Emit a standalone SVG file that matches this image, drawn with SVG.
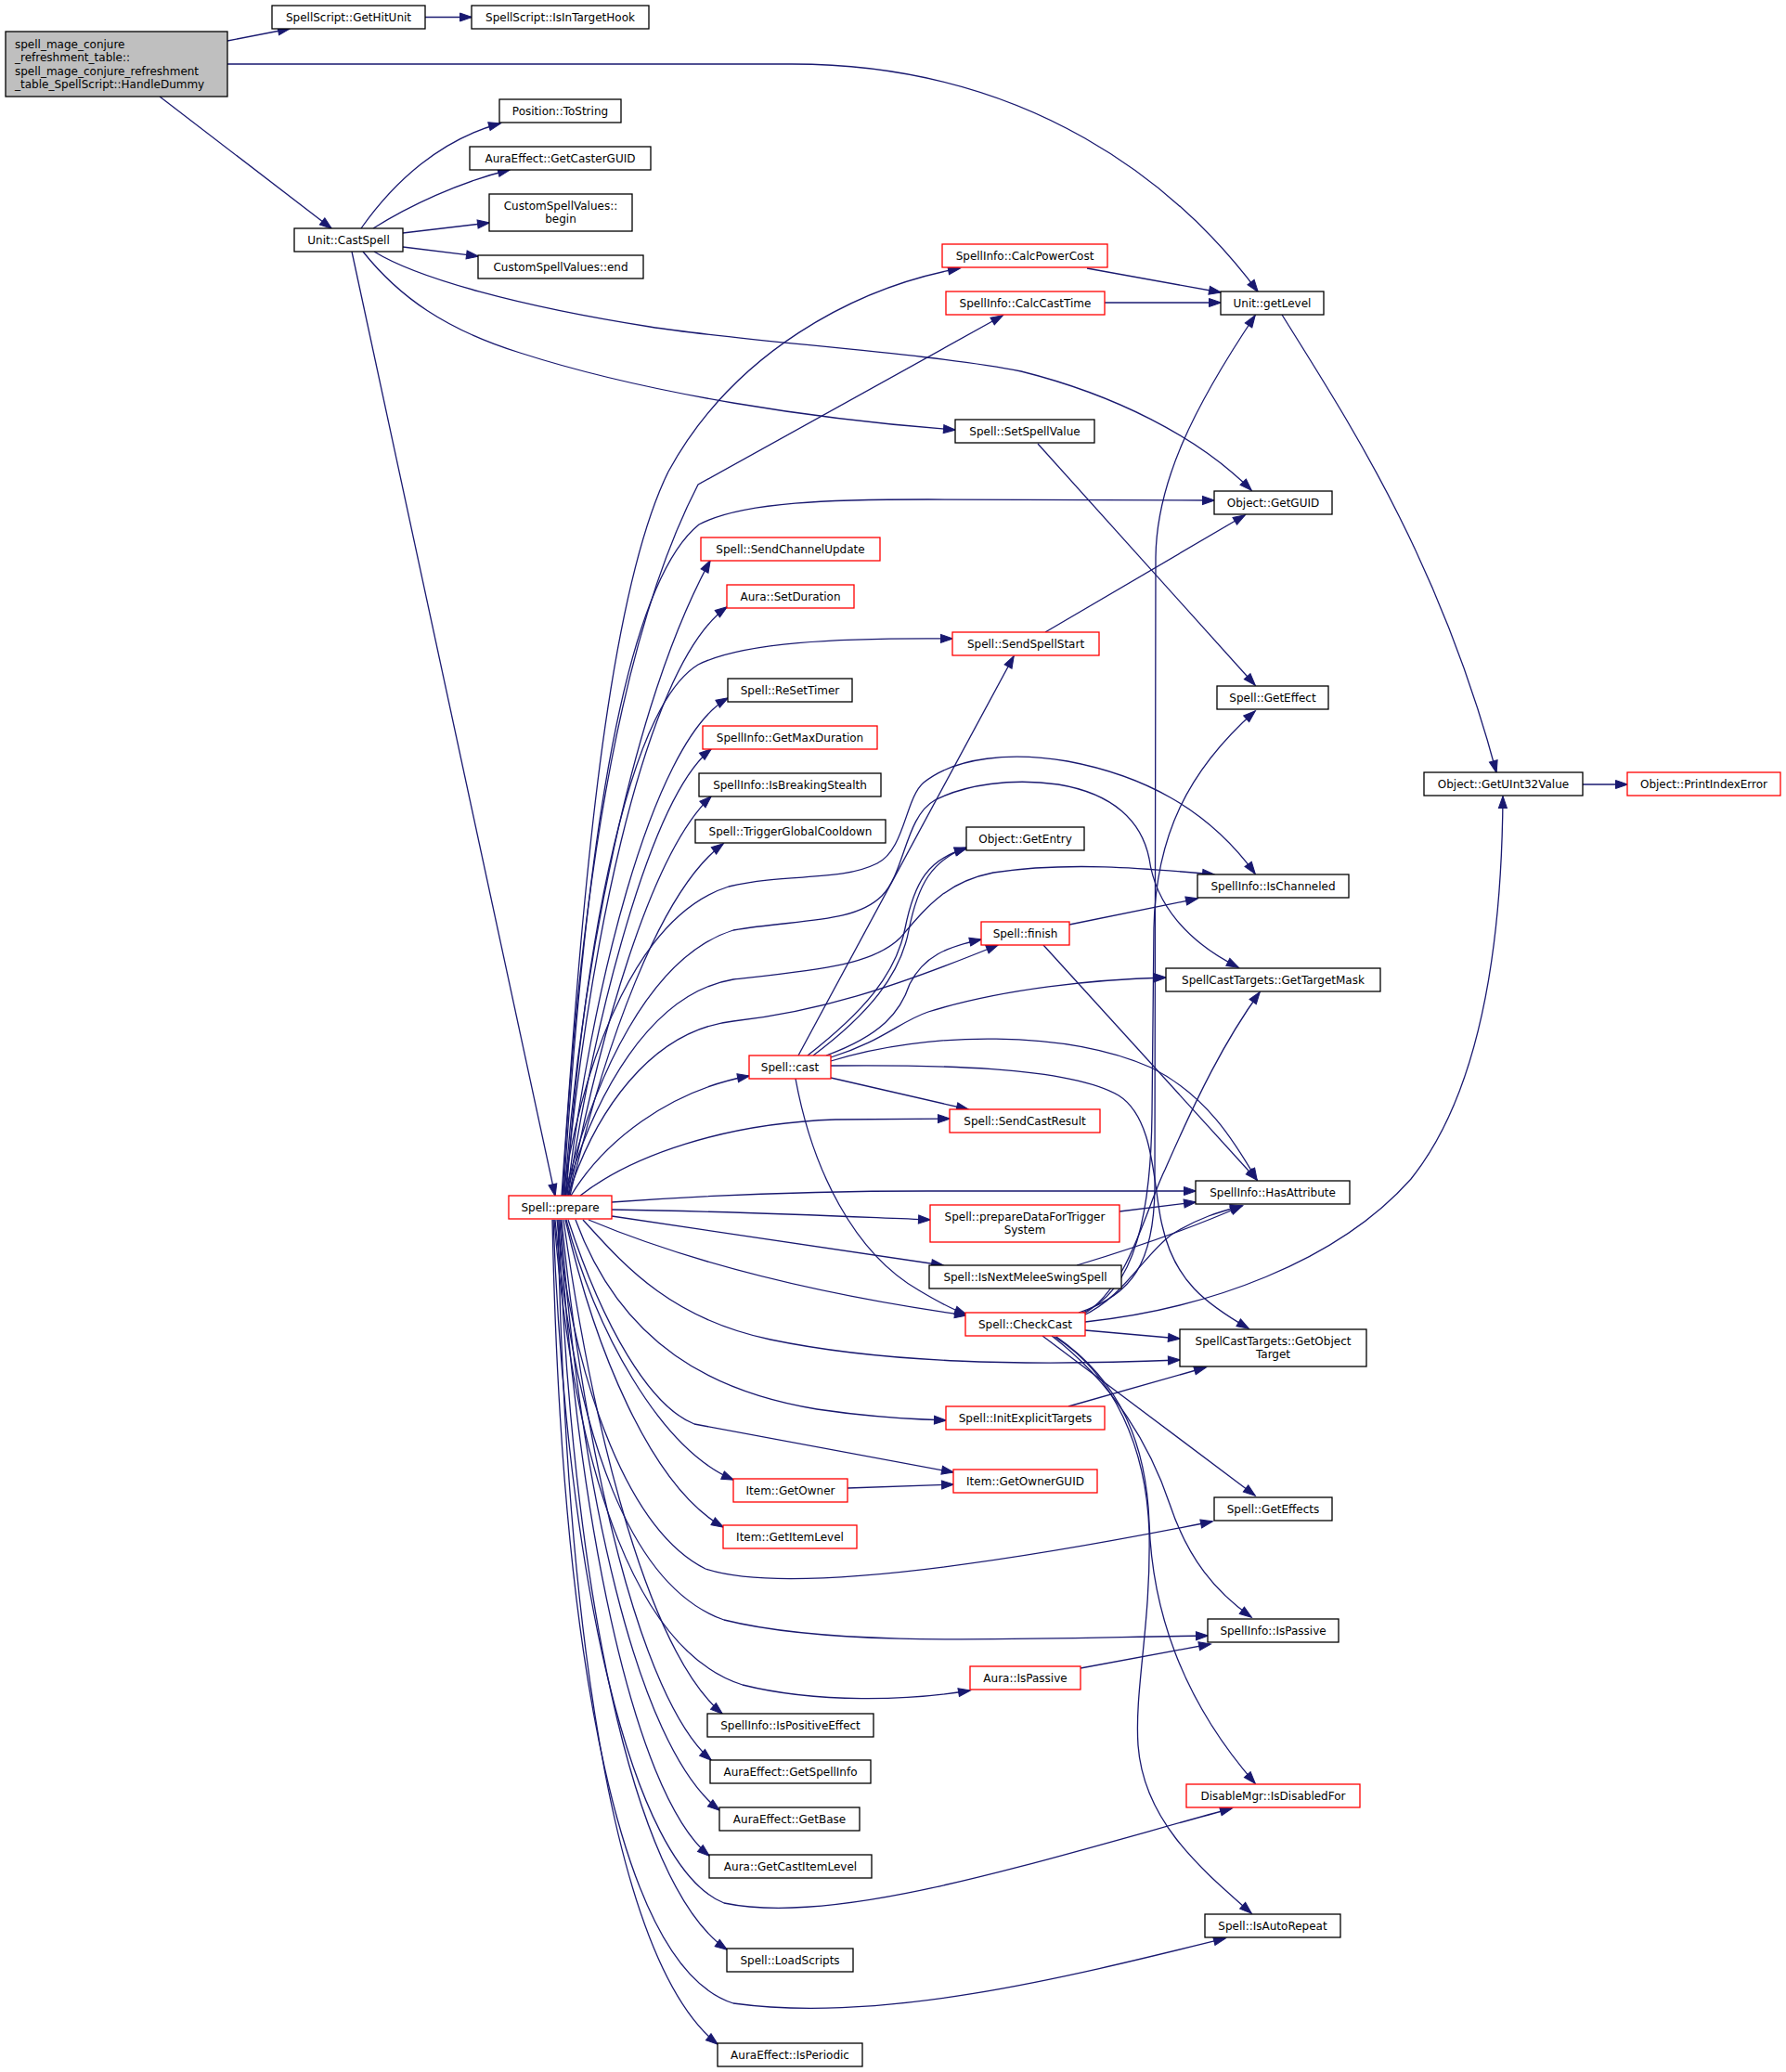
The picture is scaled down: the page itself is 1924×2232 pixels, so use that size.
<svg xmlns="http://www.w3.org/2000/svg" width="1924" height="2232" viewBox="0 0 1924 2232">
<defs>
<style>
.n rect{fill:#ffffff;stroke:#000000;stroke-width:1.3}
.n.r rect{stroke:#ff0000}
.n.root rect{fill:#bfbfbf}
text{font-family:"DejaVu Sans","Liberation Sans",sans-serif;font-size:12px;fill:#000000;text-anchor:middle}
.n.root text{text-anchor:start}
#edges path{fill:none;stroke:#191970;stroke-width:1.3;marker-end:url(#arr)}
</style>
<marker id="arr" markerWidth="13" markerHeight="10" refX="12.5" refY="4.5" orient="auto" markerUnits="userSpaceOnUse" overflow="visible">
<path d="M0,0 L13,4.5 L0,9 z" fill="#191970" stroke="#191970" stroke-width="1"/>
</marker>
</defs>
<rect x="0" y="0" width="1924" height="2232" fill="#ffffff"/>
<g id="edges">
<path d="M245,44 L312,31"/>
<path d="M458,18.5 L508,18.5"/>
<path d="M245,69 L853,69 C1110,69 1270,200 1355,314"/>
<path d="M172,104 L357,246"/>
<path d="M389,246 C425,195 475,150 539,133"/>
<path d="M402,246 C440,222 495,196 549,183"/>
<path d="M434,251 L527,240"/>
<path d="M434,266 L515,276"/>
<path d="M403,271 C450,300 560,330 700,352 C800,368 1000,380 1100,400 C1200,425 1290,470 1348,528"/>
<path d="M391,271 C430,320 480,355 560,380 C700,425 880,452 1029,463"/>
<path d="M379,271 L598,1288"/>
<path d="M1171,289 L1315,315"/>
<path d="M1190,326 L1315,326"/>
<path d="M1381,339 C1450,450 1550,600 1612,832"/>
<path d="M1705,845 L1753,845"/>
<path d="M1118,478 L1352,738"/>
<path d="M1126,681 L1341,555"/>
<path d="M605,1288 C625,1000 650,650 720,508 C790,380 920,310 1034,289"/>
<path d="M606,1288 C622,1000 660,700 752,522 L1080,340"/>
<path d="M607,1288 C625,1000 660,640 753,565 C800,540 900,538 1000,538 L1308,539"/>
<path d="M608,1288 C625,1050 680,760 765,604"/>
<path d="M609,1288 C630,1050 690,720 783,654"/>
<path d="M610,1288 C630,1000 680,760 752,716 C800,692 900,687 1026,688"/>
<path d="M611,1288 C635,1080 700,800 784,752"/>
<path d="M612,1288 C640,1100 700,860 766,807"/>
<path d="M613,1288 C645,1120 700,920 766,858"/>
<path d="M614,1288 C650,1130 710,960 779,909"/>
<path d="M606,1288 C630,1130 690,985 785,955 C850,940 905,950 945,930 C975,915 975,860 995,843 C1030,815 1090,810 1150,820 C1230,835 1300,870 1352,941"/>
<path d="M608,1288 C640,1160 700,1030 790,1002 C860,990 920,995 950,965 C975,940 975,880 1007,862 C1040,845 1090,838 1140,845 C1200,855 1230,885 1238,925 C1245,975 1280,1015 1334,1042"/>
<path d="M609,1288 C640,1180 700,1070 790,1055 C880,1045 940,1040 970,1010 C1000,975 1020,950 1070,940 C1150,928 1230,935 1308,942"/>
<path d="M612,1288 C640,1200 700,1110 790,1100 C880,1090 960,1065 1075,1018"/>
<path d="M615,1288 C650,1230 720,1175 807,1159"/>
<path d="M625,1288 C680,1245 780,1210 900,1206 L1023,1205"/>
<path d="M659,1295 C780,1286 900,1283 1000,1283 L1288,1283"/>
<path d="M659,1303 C800,1305 900,1310 1002,1314"/>
<path d="M659,1310 L1016,1363"/>
<path d="M634,1314 C720,1350 850,1390 1041,1417"/>
<path d="M628,1314 C670,1360 720,1420 830,1443 C950,1468 1100,1472 1271,1465"/>
<path d="M620,1314 C670,1450 770,1500 880,1518 C940,1527 980,1529 1019,1530"/>
<path d="M612,1314 C650,1430 700,1515 748,1534 L1027,1586"/>
<path d="M913,1603 L1027,1599"/>
<path d="M610,1314 C640,1430 710,1560 790,1594"/>
<path d="M609,1314 C640,1450 700,1600 779,1645"/>
<path d="M600,1314 C620,1500 680,1650 760,1690 C850,1720 1100,1680 1306,1639"/>
<path d="M598,1314 C620,1550 680,1710 780,1745 C900,1775 1100,1765 1301,1762"/>
<path d="M1164,1797 L1304,1771"/>
<path d="M597,1314 C620,1600 690,1780 800,1815 C880,1835 980,1832 1045,1821"/>
<path d="M607,1314 C640,1550 700,1780 778,1846"/>
<path d="M605,1314 C630,1570 690,1830 766,1896"/>
<path d="M604,1314 C625,1600 685,1880 775,1950"/>
<path d="M603,1314 C620,1620 680,1930 764,1999"/>
<path d="M596,1314 C610,1700 680,2010 780,2050 C900,2075 1100,2010 1327,1948"/>
<path d="M602,1314 C615,1700 680,2030 783,2100"/>
<path d="M595,1314 C605,1800 670,2120 790,2158 C950,2180 1150,2130 1320,2088"/>
<path d="M601,1314 C610,1800 670,2120 773,2202"/>
<path d="M860,1137 L1092,707"/>
<path d="M870,1137 C930,1090 965,1050 975,1000 C985,950 1000,925 1041,914"/>
<path d="M876,1137 C936,1092 970,1050 979,1002 C989,952 1004,927 1041,913"/>
<path d="M890,1137 C950,1115 970,1090 980,1060 C995,1030 1020,1020 1057,1012"/>
<path d="M895,1139 C950,1122 970,1100 1000,1090 C1080,1065 1180,1055 1256,1053"/>
<path d="M895,1143 C1000,1110 1150,1110 1240,1150 C1300,1180 1330,1230 1354,1271"/>
<path d="M895,1148 C1000,1147 1150,1148 1205,1180 C1245,1205 1242,1280 1252,1320 C1265,1380 1300,1405 1345,1431"/>
<path d="M895,1161 L1043,1195"/>
<path d="M857,1162 C875,1260 920,1350 990,1390 C1010,1402 1025,1410 1041,1416"/>
<path d="M1152,996 L1290,968"/>
<path d="M1124,1018 L1354,1271"/>
<path d="M1206,1305 L1288,1295"/>
<path d="M1160,1363 C1220,1345 1290,1320 1338,1299"/>
<path d="M1162,1414 C1220,1395 1243,1360 1244,1280 L1245,600 C1246,520 1285,440 1352,340"/>
<path d="M1164,1415 C1225,1392 1240,1300 1241,1200 L1243,1000 C1245,900 1280,830 1352,766"/>
<path d="M1166,1416 C1215,1390 1235,1300 1255,1260 C1290,1180 1320,1120 1357,1069"/>
<path d="M1165,1418 C1210,1398 1232,1352 1262,1330 C1290,1312 1315,1305 1338,1299"/>
<path d="M1169,1433 L1271,1442"/>
<path d="M1169,1424 C1300,1410 1440,1360 1520,1270 C1600,1170 1618,1000 1619,858"/>
<path d="M1123,1439 L1352,1611"/>
<path d="M1133,1439 C1200,1490 1240,1560 1260,1620 C1280,1680 1310,1715 1348,1742"/>
<path d="M1138,1440 C1210,1490 1235,1560 1238,1640 C1242,1760 1290,1850 1352,1921"/>
<path d="M1136,1440 C1200,1480 1235,1560 1238,1650 C1240,1750 1222,1820 1226,1880 C1232,1960 1290,2010 1348,2061"/>
<path d="M1151,1515 L1299,1473"/>
</g>
<g id="n_HandleDummy" class="n root"><rect x="6" y="34" width="239" height="70"/><text x="16" y="52">spell_mage_conjure</text><text x="16" y="66">_refreshment_table::</text><text x="16" y="80.5">spell_mage_conjure_refreshment</text><text x="16" y="95">_table_SpellScript::HandleDummy</text></g>
<g id="n_GetHitUnit" class="n"><rect x="293" y="6" width="165" height="25"/><text x="375.5" y="23">SpellScript::GetHitUnit</text></g>
<g id="n_IsInTargetHook" class="n"><rect x="508" y="6" width="191" height="25"/><text x="603.5" y="23">SpellScript::IsInTargetHook</text></g>
<g id="n_CastSpell" class="n"><rect x="317" y="246" width="117" height="25"/><text x="375.5" y="263">Unit::CastSpell</text></g>
<g id="n_ToString" class="n"><rect x="538" y="107" width="131" height="25"/><text x="603.5" y="124">Position::ToString</text></g>
<g id="n_GetCasterGUID" class="n"><rect x="506" y="158" width="195" height="25"/><text x="603.5" y="175">AuraEffect::GetCasterGUID</text></g>
<g id="n_begin" class="n"><rect x="527" y="209" width="154" height="40"/><text x="604" y="226">CustomSpellValues::</text><text x="604" y="240">begin</text></g>
<g id="n_end" class="n"><rect x="515" y="275" width="178" height="25"/><text x="604" y="292">CustomSpellValues::end</text></g>
<g id="n_CalcPowerCost" class="n r"><rect x="1015" y="263" width="178" height="25"/><text x="1104" y="280">SpellInfo::CalcPowerCost</text></g>
<g id="n_CalcCastTime" class="n r"><rect x="1019" y="314" width="171" height="25"/><text x="1104.5" y="331">SpellInfo::CalcCastTime</text></g>
<g id="n_getLevel" class="n"><rect x="1315" y="314" width="111" height="25"/><text x="1370.5" y="331">Unit::getLevel</text></g>
<g id="n_SetSpellValue" class="n"><rect x="1029" y="452" width="150" height="25"/><text x="1104" y="469">Spell::SetSpellValue</text></g>
<g id="n_GetGUID" class="n"><rect x="1308" y="529" width="127" height="25"/><text x="1371.5" y="546">Object::GetGUID</text></g>
<g id="n_SendChannelUpdate" class="n r"><rect x="755" y="579" width="193" height="25"/><text x="851.5" y="596">Spell::SendChannelUpdate</text></g>
<g id="n_SetDuration" class="n r"><rect x="783" y="630" width="137" height="25"/><text x="851.5" y="647">Aura::SetDuration</text></g>
<g id="n_SendSpellStart" class="n r"><rect x="1026" y="681" width="158" height="25"/><text x="1105" y="698">Spell::SendSpellStart</text></g>
<g id="n_ReSetTimer" class="n"><rect x="784" y="731" width="134" height="25"/><text x="851" y="748">Spell::ReSetTimer</text></g>
<g id="n_GetMaxDuration" class="n r"><rect x="757" y="782" width="188" height="25"/><text x="851" y="799">SpellInfo::GetMaxDuration</text></g>
<g id="n_IsBreakingStealth" class="n"><rect x="753" y="833" width="196" height="25"/><text x="851" y="850">SpellInfo::IsBreakingStealth</text></g>
<g id="n_TriggerGlobalCooldown" class="n"><rect x="749" y="883" width="205" height="25"/><text x="851.5" y="900">Spell::TriggerGlobalCooldown</text></g>
<g id="n_GetEffect" class="n"><rect x="1311" y="739" width="120" height="25"/><text x="1371" y="756">Spell::GetEffect</text></g>
<g id="n_GetUInt32Value" class="n"><rect x="1534" y="832" width="171" height="25"/><text x="1619.5" y="849">Object::GetUInt32Value</text></g>
<g id="n_PrintIndexError" class="n r"><rect x="1753" y="832" width="165" height="25"/><text x="1835.5" y="849">Object::PrintIndexError</text></g>
<g id="n_GetEntry" class="n"><rect x="1041" y="891" width="127" height="25"/><text x="1104.5" y="908">Object::GetEntry</text></g>
<g id="n_IsChanneled" class="n"><rect x="1290" y="942" width="163" height="25"/><text x="1371.5" y="959">SpellInfo::IsChanneled</text></g>
<g id="n_finish" class="n r"><rect x="1057" y="993" width="95" height="25"/><text x="1104.5" y="1010">Spell::finish</text></g>
<g id="n_GetTargetMask" class="n"><rect x="1256" y="1043" width="231" height="25"/><text x="1371.5" y="1060">SpellCastTargets::GetTargetMask</text></g>
<g id="n_cast" class="n r"><rect x="807" y="1137" width="88" height="25"/><text x="851" y="1154">Spell::cast</text></g>
<g id="n_SendCastResult" class="n r"><rect x="1023" y="1195" width="162" height="25"/><text x="1104" y="1212">Spell::SendCastResult</text></g>
<g id="n_HasAttribute" class="n"><rect x="1288" y="1272" width="166" height="25"/><text x="1371" y="1289">SpellInfo::HasAttribute</text></g>
<g id="n_prepare" class="n r"><rect x="548" y="1288" width="111" height="25"/><text x="603.5" y="1305">Spell::prepare</text></g>
<g id="n_prepareDataForTriggerSystem" class="n r"><rect x="1002" y="1298" width="204" height="40"/><text x="1104" y="1315">Spell::prepareDataForTrigger</text><text x="1104" y="1329">System</text></g>
<g id="n_IsNextMeleeSwingSpell" class="n"><rect x="1001" y="1363" width="207" height="25"/><text x="1104.5" y="1380">Spell::IsNextMeleeSwingSpell</text></g>
<g id="n_CheckCast" class="n r"><rect x="1040" y="1414" width="129" height="25"/><text x="1104.5" y="1431">Spell::CheckCast</text></g>
<g id="n_GetObjectTarget" class="n"><rect x="1271" y="1432" width="201" height="40"/><text x="1371.5" y="1449">SpellCastTargets::GetObject</text><text x="1371.5" y="1463">Target</text></g>
<g id="n_InitExplicitTargets" class="n r"><rect x="1019" y="1515" width="171" height="25"/><text x="1104.5" y="1532">Spell::InitExplicitTargets</text></g>
<g id="n_GetOwnerGUID" class="n r"><rect x="1027" y="1583" width="155" height="25"/><text x="1104.5" y="1600">Item::GetOwnerGUID</text></g>
<g id="n_GetOwner" class="n r"><rect x="790" y="1593" width="123" height="25"/><text x="851.5" y="1610">Item::GetOwner</text></g>
<g id="n_GetItemLevel" class="n r"><rect x="779" y="1643" width="144" height="25"/><text x="851" y="1660">Item::GetItemLevel</text></g>
<g id="n_GetEffects" class="n"><rect x="1308" y="1613" width="127" height="25"/><text x="1371.5" y="1630">Spell::GetEffects</text></g>
<g id="n_SpellInfoIsPassive" class="n"><rect x="1301" y="1744" width="141" height="25"/><text x="1371.5" y="1761">SpellInfo::IsPassive</text></g>
<g id="n_AuraIsPassive" class="n r"><rect x="1045" y="1795" width="119" height="25"/><text x="1104.5" y="1812">Aura::IsPassive</text></g>
<g id="n_IsPositiveEffect" class="n"><rect x="762" y="1846" width="179" height="25"/><text x="851.5" y="1863">SpellInfo::IsPositiveEffect</text></g>
<g id="n_GetSpellInfo" class="n"><rect x="765" y="1896" width="173" height="25"/><text x="851.5" y="1913">AuraEffect::GetSpellInfo</text></g>
<g id="n_GetBase" class="n"><rect x="775" y="1947" width="151" height="25"/><text x="850.5" y="1964">AuraEffect::GetBase</text></g>
<g id="n_GetCastItemLevel" class="n"><rect x="764" y="1998" width="175" height="25"/><text x="851.5" y="2015">Aura::GetCastItemLevel</text></g>
<g id="n_IsDisabledFor" class="n r"><rect x="1278" y="1922" width="187" height="25"/><text x="1371.5" y="1939">DisableMgr::IsDisabledFor</text></g>
<g id="n_IsAutoRepeat" class="n"><rect x="1298" y="2062" width="146" height="25"/><text x="1371" y="2079">Spell::IsAutoRepeat</text></g>
<g id="n_LoadScripts" class="n"><rect x="783" y="2099" width="136" height="25"/><text x="851" y="2116">Spell::LoadScripts</text></g>
<g id="n_IsPeriodic" class="n"><rect x="773" y="2201" width="156" height="25"/><text x="851" y="2218">AuraEffect::IsPeriodic</text></g>
</svg>
